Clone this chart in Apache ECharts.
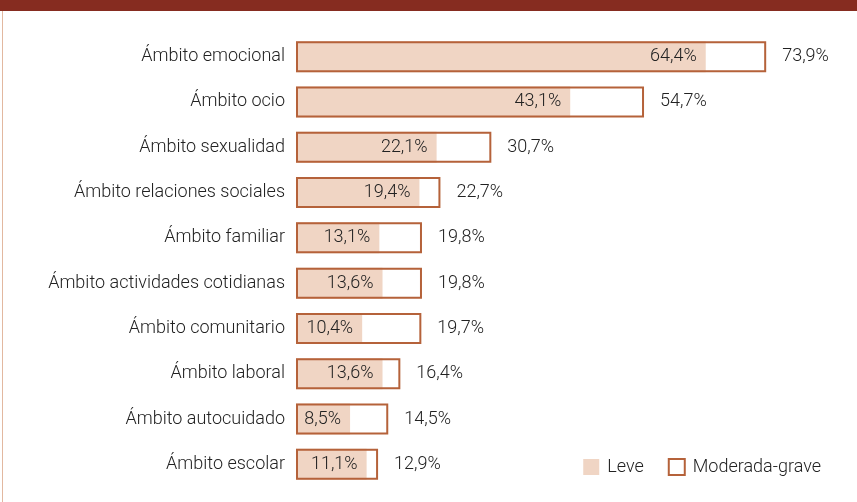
<!DOCTYPE html>
<html>
<head>
<meta charset="utf-8">
<script src="https://cdn.jsdelivr.net/npm/echarts@6/dist/echarts.min.js"></script>
<style>
  html, body { margin: 0; padding: 0; background: #fff; }
  #chart { width: 857px; height: 502px; }
</style>
</head>
<body>
<div id="chart"></div>
<script>
  // datos
  var ambitos = ['Ámbito emocional', 'Ámbito ocio', 'Ámbito sexualidad', 'Ámbito relaciones sociales',
    'Ámbito familiar', 'Ámbito actividades cotidianas', 'Ámbito comunitario', 'Ámbito laboral',
    'Ámbito autocuidado', 'Ámbito escolar'];
  var leve = [64.4, 43.1, 22.1, 19.4, 13.1, 13.6, 10.4, 13.6, 8.5, 11.1];
  var moderadaGrave = [73.9, 54.7, 30.7, 22.7, 19.8, 19.8, 19.7, 16.4, 14.5, 12.9];

  var fuente = 'Roboto, sans-serif';
  var fmt = function (p) { return p.value.toFixed(1).replace('.', ',') + '%'; };

  var myChart = echarts.init(document.getElementById('chart'));
  myChart.setOption({
    animation: false,
    textStyle: { fontFamily: fuente, fontWeight: 300 },
    graphic: [
      { type: 'rect', shape: { x: 0, y: 0, width: 857, height: 11 }, style: { fill: '#862c20' } },
      { type: 'rect', shape: { x: 2, y: 11, width: 1, height: 491 }, style: { fill: '#e2b8a0' } }
    ],
    legend: {
      right: 31,
      bottom: 21,
      icon: 'rect',
      itemWidth: 16,
      itemHeight: 16,
      itemGap: 24,
      textStyle: { fontFamily: fuente, fontSize: 18, fontWeight: 300, color: '#222', padding: [0, 0, 0, 3] },
      data: ['Leve', 'Moderada-grave']
    },
    grid: { left: 296, right: 52, top: 34, bottom: 15 },
    xAxis: {
      type: 'value',
      min: 0,
      max: 80,
      show: false
    },
    yAxis: {
      type: 'category',
      inverse: true,
      data: ambitos,
      axisLine: { show: false },
      axisTick: { show: false },
      axisLabel: { margin: 11, fontSize: 18, fontWeight: 300, color: '#222', fontFamily: fuente }
    },
    series: [
      {
        name: 'Leve',
        type: 'bar',
        data: leve,
        barWidth: 31,
        barGap: '-100%',
        itemStyle: { color: '#f0d5c4' },
        label: {
          show: true,
          position: 'insideRight',
          distance: 9,
          fontSize: 18,
          fontWeight: 300,
          color: '#222',
          fontFamily: fuente,
          formatter: fmt
        }
      },
      {
        name: 'Moderada-grave',
        type: 'bar',
        data: moderadaGrave,
        barWidth: 31,
        itemStyle: { color: 'rgba(255,255,255,0)', borderColor: '#b5623a', borderWidth: 2 },
        label: {
          show: true,
          position: 'right',
          distance: 16,
          fontSize: 18,
          fontWeight: 300,
          color: '#222',
          fontFamily: fuente,
          formatter: fmt
        }
      }
    ]
  });
</script>
</body>
</html>
